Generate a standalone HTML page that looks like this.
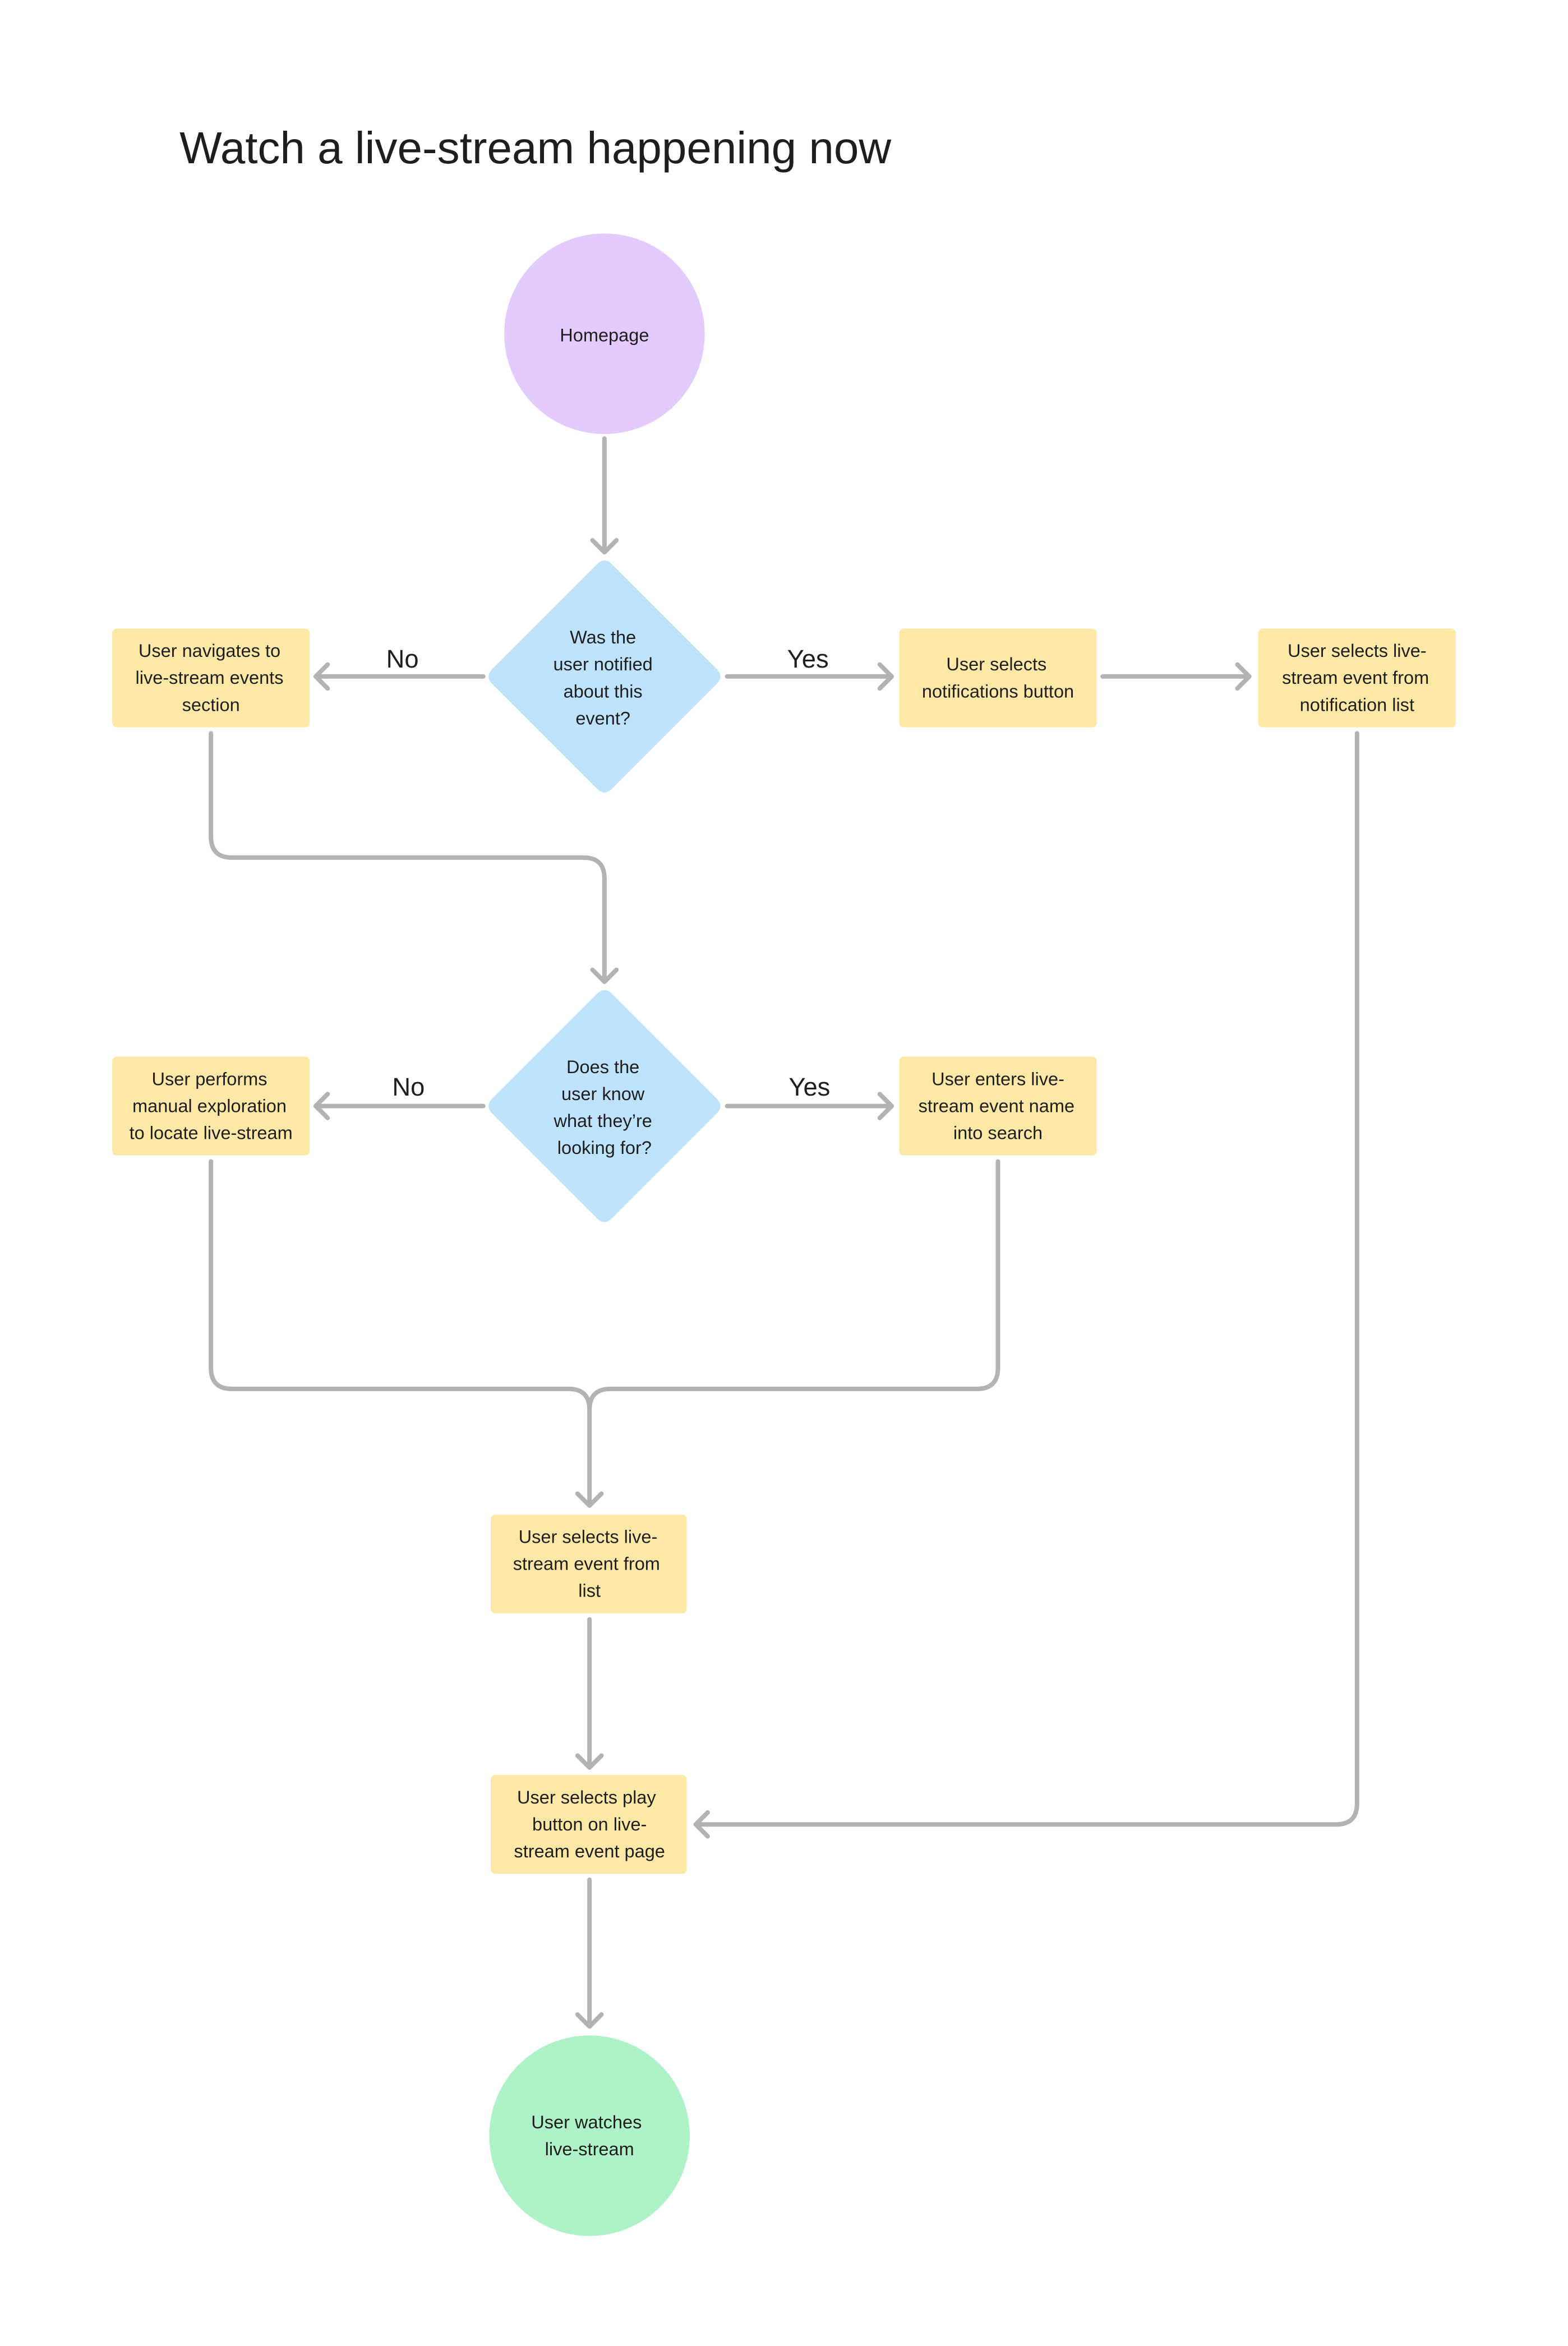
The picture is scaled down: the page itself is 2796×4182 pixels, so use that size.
<!DOCTYPE html>
<html><head><meta charset="utf-8"><style>
html,body{margin:0;padding:0;background:#fff;}
svg{display:block;}
text{font-family:"Liberation Sans",sans-serif;fill:#1e1e1e;}
.n{font-size:12.2px;text-anchor:middle;}
.l{font-size:17px;text-anchor:middle;}
.c{fill:none;stroke:#b3b3b3;stroke-width:3;stroke-linecap:round;stroke-linejoin:round;}
.b{fill:#fee8a6;}
</style></head><body>
<svg width="2796" height="4182" viewBox="0 0 1048 1567.5" xmlns="http://www.w3.org/2000/svg">
<rect width="1048" height="1568" fill="#fff"/>
<text x="120" y="109" style="font-size:30px;fill:#1e1e1e">Watch a live-stream happening now</text>

<!-- connectors -->
<path class="c" d="M404 293 V369 M396 361 L404 369 L412 361"/>
<path class="c" d="M323 452 H211 M219 444 L211 452 L219 460"/>
<path class="c" d="M486 452 H596 M588 444 L596 452 L588 460"/>
<path class="c" d="M737 452 H835 M827 444 L835 452 L827 460"/>
<path class="c" d="M141 490 V559 Q141 573 155 573 H390 Q404 573 404 587 V656 M396 648 L404 656 L412 648"/>
<path class="c" d="M323 739 H211 M219 731 L211 739 L219 747"/>
<path class="c" d="M486 739 H596 M588 731 L596 739 L588 747"/>
<path class="c" d="M141 776 V914 Q141 928 155 928 H380 Q394 928 394 942 V1006 M386 998 L394 1006 L402 998"/>
<path class="c" d="M667 776 V914 Q667 928 653 928 H408 Q394 928 394 942"/>
<path class="c" d="M394 1082 V1181 M386 1173 L394 1181 L402 1173"/>
<path class="c" d="M907 490 V1205 Q907 1219 893 1219 H465 M473 1211 L465 1219 L473 1227"/>
<path class="c" d="M394 1256 V1354 M386 1346 L394 1354 L402 1346"/>

<!-- labels -->
<text class="l" x="269" y="446">No</text>
<text class="l" x="540" y="446">Yes</text>
<text class="l" x="273" y="732">No</text>
<text class="l" x="541" y="732">Yes</text>

<!-- start -->
<circle cx="404" cy="223" r="67" fill="#e3cbfd"/>
<text class="n" x="404" y="228">Homepage</text>

<!-- diamond 1 -->
<path d="M399 377 Q404 372 409 377 L479 447 Q484 452 479 457 L409 527 Q404 532 399 527 L329 457 Q324 452 329 447 Z" fill="#bde3fd"/>
<text class="n" x="403" y="430">Was the</text>
<text class="n" x="403" y="448">user notified</text>
<text class="n" x="403" y="466">about this</text>
<text class="n" x="403" y="484">event?</text>

<rect class="b" x="75" y="420" width="132" height="66" rx="3"/>
<text class="n" x="140" y="439">User navigates to</text>
<text class="n" x="140" y="457">live-stream events</text>
<text class="n" x="141" y="475">section</text>

<rect class="b" x="601" y="420" width="132" height="66" rx="3"/>
<text class="n" x="666" y="448">User selects</text>
<text class="n" x="667" y="466">notifications button</text>

<rect class="b" x="841" y="420" width="132" height="66" rx="3"/>
<text class="n" x="907" y="439">User selects live-</text>
<text class="n" x="906" y="457">stream event from</text>
<text class="n" x="907" y="475">notification list</text>

<!-- diamond 2 -->
<path d="M399 664 Q404 659 409 664 L479 734 Q484 739 479 744 L409 814 Q404 819 399 814 L329 744 Q324 739 329 734 Z" fill="#bde3fd"/>
<text class="n" x="403" y="717">Does the</text>
<text class="n" x="403" y="735">user know</text>
<text class="n" x="403" y="753">what they’re</text>
<text class="n" x="404" y="771">looking for?</text>

<rect class="b" x="75" y="706" width="132" height="66" rx="3"/>
<text class="n" x="140" y="725">User performs</text>
<text class="n" x="140" y="743">manual exploration</text>
<text class="n" x="141" y="761">to locate live-stream</text>

<rect class="b" x="601" y="706" width="132" height="66" rx="3"/>
<text class="n" x="667" y="725">User enters live-</text>
<text class="n" x="666" y="743">stream event name</text>
<text class="n" x="667" y="761">into search</text>

<rect class="b" x="328" y="1012" width="131" height="66" rx="3"/>
<text class="n" x="393" y="1031">User selects live-</text>
<text class="n" x="392" y="1049">stream event from</text>
<text class="n" x="394" y="1067">list</text>

<rect class="b" x="328" y="1186" width="131" height="66" rx="3"/>
<text class="n" x="392" y="1205">User selects play</text>
<text class="n" x="394" y="1223">button on live-</text>
<text class="n" x="394" y="1241">stream event page</text>

<circle cx="394" cy="1427" r="67" fill="#aef2c7"/>
<text class="n" x="392" y="1422">User watches</text>
<text class="n" x="394" y="1440">live-stream</text>
</svg>
</body></html>
